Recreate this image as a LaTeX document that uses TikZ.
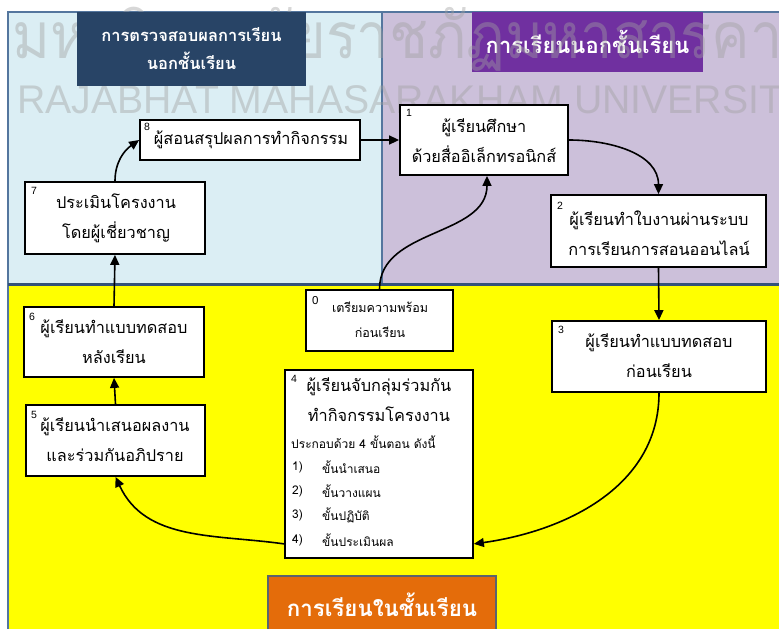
\documentclass[tikz,border=0pt]{standalone}
\usepackage{fontspec}
\setmainfont{Liberation Sans}
\newfontfamily\thai[Script=Thai]{Loma}
\usetikzlibrary{arrows.meta}

\definecolor{outerblue}{RGB}{219,238,244}
\definecolor{outerlilac}{RGB}{204,192,218}
\definecolor{classyellow}{RGB}{255,255,0}
\definecolor{frameblue}{RGB}{84,118,158}
\definecolor{splitblue}{RGB}{52,82,122}
\definecolor{navyhead}{RGB}{40,68,102}
\definecolor{violethead}{RGB}{112,48,160}
\definecolor{orangehead}{RGB}{228,108,10}
\definecolor{orangeedge}{RGB}{90,100,110}
\definecolor{markgray}{RGB}{160,160,160}

\tikzset{
  stepbox/.style={draw=black, line width=1.8pt, fill=white, inner sep=0pt},
  steptext/.style={font=\thai\fontsize{16.3}{30}\selectfont, align=center, inner sep=0pt},
  stepnum/.style={font=\fontsize{10.5}{10.5}\selectfont, inner sep=0pt, anchor=north west},
  smalltext/.style={font=\thai\fontsize{12}{24}\selectfont, inner sep=0pt},
  headbox/.style={inner sep=0pt, text=white, align=center},
  flow/.style={line width=1.6pt, -{Triangle[length=10pt,width=9pt]}},
  wmark/.style={text=markgray, text opacity=0.42, inner sep=0pt, anchor=base west},
}

\begin{document}
\begin{tikzpicture}[x=1pt,y=-1pt]
\useasboundingbox (0,0) rectangle (779,629);

% three background areas
\fill[outerblue] (8,12) rectangle (382,284);
\fill[outerlilac] (382,12) rectangle (779,284);
\fill[classyellow] (8,284) rectangle (779,629);
\draw[frameblue, line width=1.5pt] (779,12) -- (8,12) -- (8,629);
\draw[frameblue, line width=1.2pt] (382,12) -- (382,284);
\draw[splitblue, line width=3pt] (8,284) -- (779,284);

% heading of the online area (the faint lettering runs over it)
\node[headbox, fill=violethead, minimum width=231pt, minimum height=60pt,
      font=\thai\bfseries\fontsize{22}{22}\selectfont] (hout) at (587.5,42)
      {การเรียนนอกชั้นเรียน};

% faint institutional lettering across the top
\node[wmark, font=\thai\fontsize{64}{64}\selectfont] (wth) at (12,58) {\scalebox{0.90}[1]{มหาวิทยาลัยราชภัฏมหาสารคาม}};
\node[wmark, font=\fontsize{40}{40}\selectfont] (wen) at (17,113) {\scalebox{0.98}[1]{RAJABHAT MAHASARAKHAM UNIVERSITY}};

% the other area headings
\node[headbox, fill=navyhead, minimum width=229pt, minimum height=74pt,
      font=\thai\bfseries\fontsize{16.5}{28}\selectfont] (hcheck) at (191.5,49)
      {การตรวจสอบผลการเรียน\\นอกชั้นเรียน};
\node[headbox, fill=orangehead, draw=orangeedge, line width=1.2pt,
      minimum width=228pt, minimum height=58pt,
      font=\thai\bfseries\fontsize{22.3}{22}\selectfont] (hin) at (382,605)
      {การเรียนในชั้นเรียน};

% step boxes
\node[stepbox, minimum width=220pt, minimum height=40pt] (s8) at (250,140) {};
\node[steptext] (t8) at (251,140) {ผู้สอนสรุปผลการทำกิจกรรม};
\node[stepnum] (n8) at (144,123) {8};

\node[stepbox, minimum width=168pt, minimum height=70pt] (s1) at (484,140) {};
\node[steptext] (t1) at (484,141) {ผู้เรียนศึกษา\\ด้วยสื่ออิเล็กทรอนิกส์};
\node[stepnum] (n1) at (406,109) {1};

\node[stepbox, minimum width=180pt, minimum height=72pt] (s7) at (115,218) {};
\node[steptext] (t7) at (116,218) {ประเมินโครงงาน\\โดยผู้เชี่ยวชาญ};
\node[stepnum] (n7) at (31,187) {7};

\node[stepbox, minimum width=215pt, minimum height=72pt] (s2) at (658.5,231) {};
\node[steptext] (t2) at (659,233) {ผู้เรียนทำใบงานผ่านระบบ\\การเรียนการสอนออนไลน์};
\node[stepnum] (n2) at (557,202) {2};

\node[stepbox, minimum width=147pt, minimum height=61pt] (s0) at (379.5,320.5) {};
\node[smalltext, align=center, font=\thai\fontsize{12.5}{25}\selectfont] (t0) at (380,320) {เตรียมความพร้อม\\ก่อนเรียน};
\node[stepnum, font=\fontsize{11.5}{11.5}\selectfont] (n0) at (312,296) {0};

\node[stepbox, minimum width=180pt, minimum height=70pt] (s6) at (114,342) {};
\node[steptext] (t6) at (114,342) {ผู้เรียนทำแบบทดสอบ\\หลังเรียน};
\node[stepnum] (n6) at (29,313) {6};

\node[stepbox, minimum width=179pt, minimum height=71pt] (s5) at (115.5,440.5) {};
\node[steptext] (t5) at (115,440) {ผู้เรียนนำเสนอผลงาน\\และร่วมกันอภิปราย};
\node[stepnum] (n5) at (31,411) {5};

\node[stepbox, minimum width=214pt, minimum height=71pt] (s3) at (659,356.5) {};
\node[steptext] (t3) at (659,356) {ผู้เรียนทำแบบทดสอบ\\ก่อนเรียน};
\node[stepnum] (n3) at (558,326) {3};

\node[stepbox, minimum width=188pt, minimum height=188pt] (s4) at (379,464) {};
\node[stepnum] (n4) at (291,375) {4};
\node[steptext] (t4) at (379,400) {ผู้เรียนจับกลุ่มร่วมกัน\\ทำกิจกรรมโครงงาน};
\node[smalltext, anchor=west] (u4) at (291,442) {ประกอบด้วย 4 ขั้นตอน ดังนี้};
\node[smalltext, anchor=west] (a4) at (292,467) {1)};
\node[smalltext, anchor=west] (b4) at (292,491) {2)};
\node[smalltext, anchor=west] (c4) at (292,515) {3)};
\node[smalltext, anchor=west] (d4) at (292,540) {4)};
\node[smalltext, anchor=west] (la4) at (322,467) {ขั้นนำเสนอ};
\node[smalltext, anchor=west] (lb4) at (322,491) {ขั้นวางแผน};
\node[smalltext, anchor=west] (lc4) at (322,515) {ขั้นปฏิบัติ};
\node[smalltext, anchor=west] (ld4) at (322,540) {ขั้นประเมินผล};

% the learning cycle
\draw[flow] (s8.east) -- (s1.west);
\draw[flow] (s1.east) to[out=0,in=90] (s2.north);
\draw[flow] (s2.south) -- (s3.north);
\draw[flow] (s3.south) to[out=-90,in=8] ([yshift=15pt]s4.south east);
\draw[flow] ([yshift=15pt]s4.south west) to[out=172,in=-65] (s5.south);
\draw[flow] (s5.north) -- (s6.south);
\draw[flow] (s6.north) -- (s7.south);
\draw[flow] (s7.north) to[out=90,in=215] (s8.west);
\draw[flow] (s0.north) to[out=90,in=-90] ([xshift=3pt]s1.south);
\end{tikzpicture}
\end{document}
